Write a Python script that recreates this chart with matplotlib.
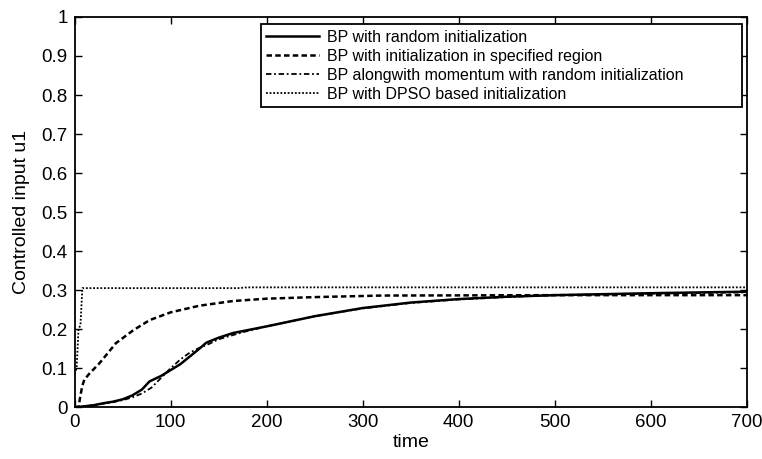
"""Controlled input u1 over time for four BP initialisation schemes."""

import matplotlib
matplotlib.use("Agg")
import matplotlib.pyplot as plt

plt.rcParams["font.family"] = ["Liberation Sans", "DejaVu Sans"]

# BP with random initialization
t_rand = [0, 10, 20, 30, 40, 50, 60, 70, 78, 90, 100, 110, 120, 130, 137, 150,
          165, 200, 250, 300, 350, 400, 450, 500, 600, 700]
u_rand = [0.0, 0.002, 0.005, 0.01, 0.014, 0.02, 0.03, 0.045, 0.066, 0.08, 0.095,
          0.11, 0.13, 0.15, 0.165, 0.178, 0.19, 0.207, 0.233, 0.254, 0.268, 0.277,
          0.283, 0.287, 0.292, 0.296]

# BP with initialization in specified region
t_reg = [0, 4, 6, 8, 10, 15, 26, 43, 61, 78, 100, 130, 165, 200, 250, 320,
         500, 700]
u_reg = [0.0, 0.0, 0.03, 0.055, 0.07, 0.085, 0.113, 0.164, 0.197, 0.223, 0.243,
         0.26, 0.272, 0.278, 0.282, 0.286, 0.287, 0.287]

# BP alongwith momentum with random initialization
t_mom = [0, 10, 20, 30, 40, 50, 60, 70, 80, 90, 100, 110, 120, 130, 140, 150,
         175, 200, 250, 300, 350, 400, 450, 500, 600, 700]
u_mom = [0.0, 0.002, 0.005, 0.009, 0.013, 0.018, 0.025, 0.035, 0.05, 0.075, 0.1,
         0.122, 0.14, 0.152, 0.162, 0.174, 0.192, 0.207, 0.233, 0.253, 0.267, 0.276,
         0.282, 0.287, 0.291, 0.294]

# BP with DPSO based initialization
t_dpso = [0, 2, 4, 6, 8, 100, 170, 180, 700]
u_dpso = [0.085, 0.1, 0.2, 0.21, 0.305, 0.305, 0.305, 0.307, 0.307]


def main() -> None:
    fig, ax = plt.subplots(figsize=(7.62, 4.59), dpi=100)
    fig.subplots_adjust(left=0.098, right=0.98, top=0.963, bottom=0.113)

    ax.plot(t_rand, u_rand, color="k", ls="-", lw=1.8,
            label="BP with random initialization")
    ax.plot(t_reg, u_reg, color="k", ls=(0, (2.2, 1.3)), lw=1.8,
            label="BP with initialization in specified region")
    ax.plot(t_mom, u_mom, color="k", ls=(0, (3, 1.5, 1, 1.5)), lw=1.3,
            label="BP alongwith momentum with random initialization")
    ax.plot(t_dpso, u_dpso, color="k", ls=(0, (1, 1)), lw=1.3,
            label="BP with DPSO based initialization")

    ax.set_xlim(0, 700)
    ax.set_ylim(0, 1)
    ax.set_xticks(range(0, 701, 100))
    ax.set_yticks([i / 10 for i in range(11)])
    ax.set_yticklabels(["0", "0.1", "0.2", "0.3", "0.4", "0.5", "0.6", "0.7", "0.8", "0.9", "1"])
    ax.tick_params(direction="in", top=True, right=True, labelsize=13.5, length=5, width=1,
                   pad=5)
    for spine in ax.spines.values():
        spine.set_linewidth(1.3)

    ax.set_xlabel("time", fontsize=14, labelpad=2)
    ax.set_ylabel("Controlled input u1", fontsize=14, labelpad=8)

    # MATLAB-style legend box, wider than its text
    leg = ax.legend(loc="upper left", bbox_to_anchor=(0.277, 0.982, 0.716, 0.0),
                    mode="expand", fontsize=11.5,
                    fancybox=False, framealpha=1, edgecolor="k",
                    handlelength=3.3, handletextpad=0.5, borderpad=0.35,
                    labelspacing=0.25, borderaxespad=0)
    leg.get_frame().set_linewidth(1.3)

    fig.savefig("out.png", dpi=100)
    plt.close(fig)


if __name__ == "__main__":
    main()
